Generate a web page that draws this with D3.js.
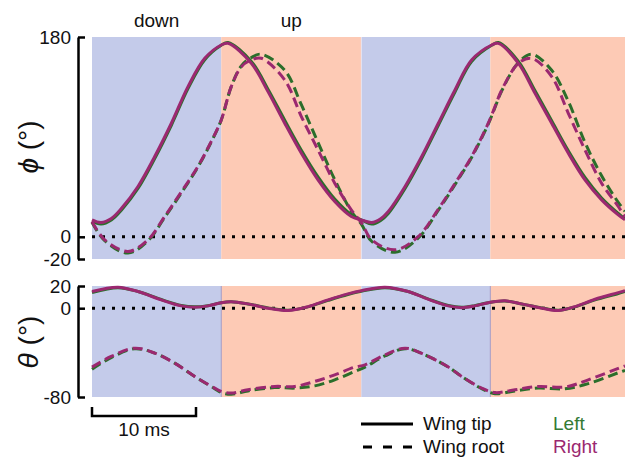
<!DOCTYPE html>
<html>
<head>
<meta charset="utf-8">
<script src="https://cdn.jsdelivr.net/npm/d3@7"></script>
<style>
  body { margin: 0; background: #fff; }
  svg text { font-family: "Liberation Sans", Arial, Helvetica, sans-serif; fill: #111; }
</style>
</head>
<body>
<svg id="chart" width="625" height="459"></svg>
<script>
// stroke phases (ms)
var strokeEdges = [0, 12.43, 25.9, 38.3, 51.25];
var strokePhases = ["down", "up", "down", "up"];

// phi, wing tip
var phiTipTime = [0, 0.87, 1.86, 2.82, 4.42, 6.03, 7.63, 9.23, 10.84, 12.43, 13.08, 15.32, 16.92, 18.53, 20.13, 21.73, 23.34, 24.93, 26.06, 26.89, 27.76, 28.49, 30.1, 31.7, 33.3, 34.9, 36.5, 38.43, 39.07, 41.0, 42.6, 44.2, 45.8, 47.4, 49.0, 50.6, 51.25];
var phiTipRight = [15.3, 12.9, 16.5, 25.5, 45.3, 72.3, 102.3, 135.3, 160.8, 172.8, 174.3, 156.3, 130.8, 102.3, 75.3, 51.3, 31.8, 18.3, 14.7, 12.9, 16.3, 22.8, 45.3, 72.3, 102.3, 132.3, 159.3, 172.8, 174.3, 156.3, 129.3, 102.3, 75.3, 51.3, 33.3, 19.8, 15.3];
var phiTipLeft = [14, 11.5, 15.2, 24, 43.5, 70.5, 100.5, 133.5, 159.5, 172.5, 175, 158, 133, 105, 78, 54, 34, 20, 14.5, 11.5, 14.8, 21, 43.5, 70.5, 100.5, 130.5, 158, 172.5, 175, 158, 131.5, 104.5, 77.5, 53.5, 35, 21, 16];

// phi, wing root
var phiRootTime = [0, 1.22, 3.46, 5.38, 6.99, 8.59, 10.19, 11.47, 12.43, 13.39, 14.36, 15.32, 16.28, 18.53, 20.13, 21.73, 23.34, 24.93, 25.93, 26.89, 29.13, 31.38, 33.3, 34.9, 36.5, 38.1, 38.75, 39.4, 41.0, 42.28, 44.2, 45.8, 47.4, 49.0, 50.6, 51.25];
var phiRootRight = [13.8, -2.7, -13.2, -2.7, 18.3, 40.5, 63.5, 86, 105.3, 135.3, 153.3, 159.3, 160.8, 141.3, 108.3, 78.3, 48.3, 24.3, 12.3, -2.7, -11.7, 0.3, 25, 48, 72.3, 102.3, 117.3, 132.3, 156.3, 160.8, 144.3, 111.3, 78.3, 48.3, 27.3, 18];
var phiRootLeft = [13, -3.5, -14.7, -3.5, 17.5, 39.5, 63, 85.5, 105.3, 135.3, 154, 161.5, 164.5, 150, 119, 85, 51.5, 23, 11, -4, -14, -1, 24, 47, 71.5, 101.5, 116.5, 131.5, 157, 164.5, 150, 122, 85, 55, 31, 23];

// theta, wing tip
var thetaTipTime = [0, 2.5, 4.42, 6.66, 8.59, 9.88, 11.15, 12.43, 13.39, 15.0, 16.92, 18.85, 20.77, 22.7, 24.6, 25.9, 28.17, 30.4, 32.3, 34.26, 35.55, 36.8, 38.1, 39.7, 41.3, 43.24, 44.84, 46.44, 48.37, 50.6, 51.25];
var thetaTipRight = [15, 18.9, 15, 7.5, 2.1, 0.9, 2.1, 5, 5.9, 3.9, 0, -2.1, 1.4, 7.5, 12.9, 15.8, 18.9, 15, 8.1, 2.1, 0.5, 2.1, 5, 6.6, 3.9, 0, -2.1, 1.4, 8.1, 14, 15.8];
var thetaTipLeft = [14, 18.5, 15, 7.8, 2.4, 1.2, 2.3, 5, 5.8, 3.8, 0.3, -1.8, 1.2, 7, 12.3, 15.2, 18.5, 15, 8.4, 2.4, 0.8, 2.3, 5, 6.5, 3.8, 0.3, -1.8, 1.2, 7.5, 13.3, 15.2];

// theta, wing root
var thetaRootTime = [0, 1.84, 4.1, 6.03, 7.95, 9.88, 11.8, 12.43, 13.39, 15.0, 17.56, 19.49, 21.41, 23.34, 25.26, 26.25, 28.17, 30.1, 32.0, 34.26, 35.55, 37.47, 38.75, 40.67, 42.9, 45.48, 47.72, 50.93, 51.25];
var thetaRootRight = [-53.1, -43.5, -36, -40.5, -49.5, -61.5, -72, -75, -76.5, -73.5, -70.5, -70.5, -66, -60, -53.1, -51, -42, -36, -42, -53, -61.5, -72, -76, -73.5, -70.5, -71, -64.5, -53, -52];
var thetaRootLeft = [-55, -44.5, -36.5, -40.5, -49.5, -61.5, -72.5, -76, -77.5, -74.5, -71.5, -72, -70, -64.5, -57, -53, -43, -36.5, -42, -53, -61.5, -72.5, -77, -74.5, -72, -72.5, -68, -57, -56];

var phiTicks = [-20, 0, 180];
var thetaTicks = [-80, 0, 20];

var colors = { left: "#2b6e2b", right: "#9b2870" };
var bandColors = { down: "#c4cbea", up: "#fdcab5" };

var svg = d3.select("#chart");

var x = d3.scaleLinear().domain([0, 51.25]).range([92, 625]);
var yPhi = d3.scaleLinear().domain([-20, 180]).range([259, 37]);
var yTheta = d3.scaleLinear().domain([-80, 20]).range([397, 286]);

function zip(t, v) {
    return t.map(function(d, i) { return [d, v[i]]; });
}

function drawPanel(y, ticks, series, edgeColor, edgeIdx) {
    var g = svg.append("g");
    var top = y.range()[1], bottom = y.range()[0];

    // stroke bands
    g.selectAll("rect.band")
        .data(strokePhases)
        .enter()
        .append("rect")
        .attr("x", function(d, i) { return x(strokeEdges[i]); })
        .attr("width", function(d, i) { return x(strokeEdges[i + 1]) - x(strokeEdges[i]); })
        .attr("y", top)
        .attr("height", bottom - top)
        .style("fill", function(d) { return bandColors[d]; });

    // thin line where the bands meet
    g.selectAll("line.edge")
        .data(edgeIdx)
        .enter()
        .append("line")
        .attr("x1", function(d) { return x(strokeEdges[d]); })
        .attr("x2", function(d) { return x(strokeEdges[d]); })
        .attr("y1", top).attr("y2", bottom)
        .style("stroke", edgeColor)
        .style("stroke-width", 1);

    // zero line
    g.append("line")
        .attr("x1", x(0)).attr("x2", x(51.25))
        .attr("y1", y(0)).attr("y2", y(0))
        .style("stroke", "#000")
        .style("stroke-width", 3)
        .style("stroke-dasharray", "3,7");

    var line = d3.line()
        .x(function(d) { return x(d[0]); })
        .y(function(d) { return y(d[1]); })
        .curve(d3.curveCatmullRom.alpha(0.5));

    series.forEach(function(s) {
        g.append("path")
            .attr("d", line(s.data))
            .style("fill", "none")
            .style("stroke", s.color)
            .style("stroke-width", 3)
            .style("stroke-dasharray", s.dash ? "10,5" : null);
    });

    // y axis as a bracket
    var axis = svg.append("g")
        .attr("transform", "translate(78,0)")
        .call(d3.axisLeft(y).tickValues(ticks).tickSize(-7).tickSizeOuter(0).tickPadding(7)
            .tickFormat(function(d) { return d < 0 ? "-" + Math.abs(d) : d; }));
    axis.select(".domain").style("stroke", "#000").style("stroke-width", 2.5);
    axis.selectAll(".tick line").style("stroke", "#000").style("stroke-width", 2.5);
    axis.selectAll(".tick text")
        .style("font-size", "19px")
        .style("font-family", "'Liberation Sans', Arial, sans-serif")
        .style("fill", "#111");
}

drawPanel(yPhi, phiTicks, [
    { data: zip(phiRootTime, phiRootLeft), color: colors.left, dash: true },
    { data: zip(phiTipTime, phiTipLeft), color: colors.left, dash: false },
    { data: zip(phiRootTime, phiRootRight), color: colors.right, dash: true },
    { data: zip(phiTipTime, phiTipRight), color: colors.right, dash: false }
], "#e6e3f0", [2]);

drawPanel(yTheta, thetaTicks, [
    { data: zip(thetaRootTime, thetaRootLeft), color: colors.left, dash: true },
    { data: zip(thetaTipTime, thetaTipLeft), color: colors.left, dash: false },
    { data: zip(thetaRootTime, thetaRootRight), color: colors.right, dash: true },
    { data: zip(thetaTipTime, thetaTipRight), color: colors.right, dash: false }
], "#a59ac4", [1, 3]);

// stroke phase labels
svg.selectAll("text.phase")
    .data(strokePhases.slice(0, 2))
    .enter()
    .append("text")
    .attr("x", function(d, i) { return (x(strokeEdges[i]) + x(strokeEdges[i + 1])) / 2; })
    .attr("y", 27)
    .attr("text-anchor", "middle")
    .style("font-size", "19px")
    .text(function(d) { return d; });

// axis titles
function yTitle(cx, cy, sym) {
    var t = svg.append("text")
        .attr("transform", "translate(" + cx + "," + cy + ") rotate(-90)")
        .attr("text-anchor", "middle")
        .style("font-size", "28px");
    t.append("tspan").style("font-style", "italic").text(sym);
    t.append("tspan").text(" (°)");
}
yTitle(38, 147, "ϕ");
yTitle(38, 342, "θ");

// scale bar
var bar = svg.append("g");
bar.append("path")
    .attr("d", "M" + x(0) + ",407V416H" + x(10) + "V407")
    .style("fill", "none")
    .style("stroke", "#000")
    .style("stroke-width", 2.5);
bar.append("text")
    .attr("x", (x(0) + x(10)) / 2)
    .attr("y", 436)
    .attr("text-anchor", "middle")
    .style("font-size", "19px")
    .text("10 ms");

// legend
var legend = svg.append("g");
legend.append("line").attr("x1", 361).attr("x2", 413).attr("y1", 424).attr("y2", 424)
    .style("stroke", "#000").style("stroke-width", 3);
legend.append("line").attr("x1", 363).attr("x2", 413).attr("y1", 447).attr("y2", 447)
    .style("stroke", "#000").style("stroke-width", 3).style("stroke-dasharray", "9,11");
legend.append("text").attr("x", 423).attr("y", 430).style("font-size", "19px").text("Wing tip");
legend.append("text").attr("x", 423).attr("y", 453).style("font-size", "19px").text("Wing root");
legend.append("text").attr("x", 553).attr("y", 430).style("font-size", "19px")
    .style("fill", "#347a34").text("Left");
legend.append("text").attr("x", 553).attr("y", 453).style("font-size", "19px")
    .style("fill", colors.right).text("Right");
</script>
</body>
</html>
